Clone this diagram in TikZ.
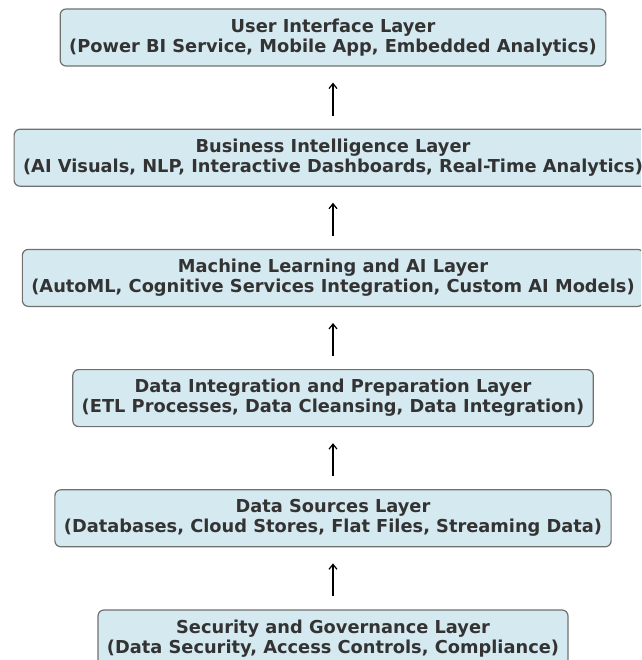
\documentclass[tikz,border=0pt]{standalone}
\usepackage{fontspec}
\setmainfont{DejaVu Sans}
\usepackage{xcolor}
\usetikzlibrary{arrows.meta,positioning}

\definecolor{layerfill}{HTML}{D5E9F0}
\definecolor{layerline}{HTML}{707070}
\definecolor{layertext}{HTML}{333333}

\begin{document}
\begin{tikzpicture}[
    x=1pt, y=1pt,
    node distance=62pt,
    layer/.style={rectangle, draw=layerline, line width=1.2pt, rounded corners=6pt, fill=layerfill, text=layertext,
      minimum height=57pt, inner xsep=9pt, align=center, font=\fontsize{17.8}{20}\selectfont\bfseries},
    arr/.style={-{Straight Barb[length=5pt, width=8pt]}, line width=1.2pt, shorten <=13pt, shorten >=16pt}
]
\useasboundingbox (0,0) rectangle (641,-660);
\clip (0,0) rectangle (641,-660);
\node[layer] (ui) at (333,-37.5) {User Interface Layer\\(Power BI Service, Mobile App, Embedded Analytics)};
\node[layer, below=of ui] (bi) {Business Intelligence Layer\\(AI Visuals, NLP, Interactive Dashboards, Real-Time Analytics)};
\node[layer, below=of bi] (ml) {Machine Learning and AI Layer\\(AutoML, Cognitive Services Integration, Custom AI Models)};
\node[layer, below=of ml] (dip) {Data Integration and Preparation Layer\\(ETL Processes, Data Cleansing, Data Integration)};
\node[layer, below=of dip] (src) {Data Sources Layer\\(Databases, Cloud Stores, Flat Files, Streaming Data)};
\node[layer, below=of src] (sec) {Security and Governance Layer\\(Data Security, Access Controls, Compliance)};

\foreach \a/\b in {sec/src, src/dip, dip/ml, ml/bi, bi/ui}
  \draw[arr] (\a) -- (\b);
\end{tikzpicture}
\end{document}
